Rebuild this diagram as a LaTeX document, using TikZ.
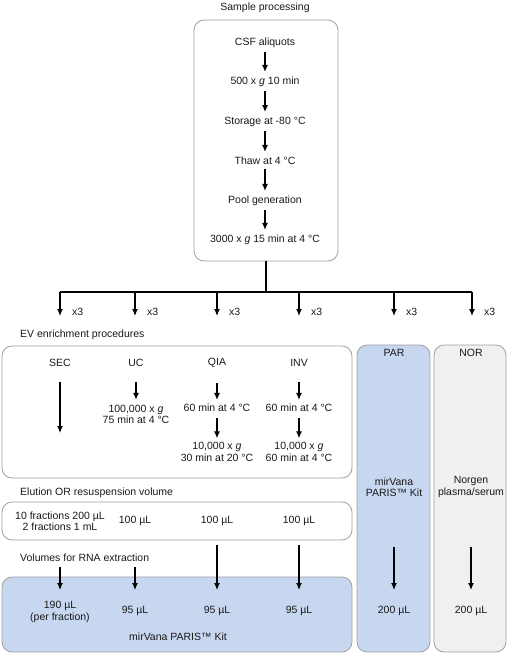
\documentclass[tikz,border=0pt]{standalone}
\usepackage{fontspec}
\setmainfont{Liberation Sans}
\usetikzlibrary{arrows.meta}
\definecolor{bluefill}{RGB}{199,215,240}
\definecolor{grayfill}{RGB}{240,240,240}
\definecolor{edgegray}{RGB}{160,160,160}
\begin{document}
\begin{tikzpicture}[x=1pt,y=-1pt,
  every node/.style={font=\fontsize{10.5}{11.5}\selectfont, inner sep=0pt, align=center, text=black!90},
  panel/.style={draw=edgegray, line width=0.8pt, rounded corners=10pt, fill=white},
  arr/.style={line width=1.2pt, -{Latex[length=7pt,width=6pt]}},
  plain/.style={line width=1.2pt}
]
\useasboundingbox (0,0) rectangle (509,657);

% ---------- Sample processing ----------
\node (sptitle) at (265,8) {Sample processing};
\node[panel, minimum width=144pt, minimum height=241pt] (spbox) at (266,140.5) {};
\node (s1) at (265,43) {CSF aliquots};
\node (s2) at (265,82) {500 x \textit{g} 10 min};
\node (s3) at (265,122) {Storage at -80 °C};
\node (s4) at (265,161) {Thaw at 4 °C};
\node (s5) at (265,201) {Pool generation};
\node (s6) at (265,240) {3000 x \textit{g} 15 min at 4 °C};
\foreach \a/\b in {s1/s2,s2/s3,s3/s4,s4/s5,s5/s6}
  \draw[arr] ([yshift=-4pt]\a.south) -- ([yshift=5pt]\b.north);

% ---------- Distribution ----------
\coordinate (hub) at (266,292);
\coordinate (h1) at (60,292);
\coordinate (h6) at (472,292);
\draw[plain] (spbox.south) -- (hub);
\draw[plain] (h1) -- (h6);
\foreach \i/\x in {1/60,2/135,3/217,4/299,5/394,6/472}{
  \coordinate (d\i) at (\x,292);
  \coordinate (e\i) at (\x,316);
  \draw[arr] (d\i) -- (e\i);
  \node[anchor=west] (x\i) at (\x+12,312) {x3};
}

% ---------- EV enrichment ----------
\node[anchor=west] (evlabel) at (20,335) {EV enrichment procedures};
\node[panel, minimum width=350pt, minimum height=132pt] (evbox) at (177,412) {};
\node (sec) at (60,363) {SEC};
\node (uc) at (136,363) {UC};
\node (qia) at (217,363) {QIA};
\node (inv) at (299,363) {INV};
\coordinate (secA) at (60,382);
\coordinate (secB) at (60,433);
\draw[arr] (secA) -- (secB);
\node (uc1) at (136,414.5) {100,000 x \textit{g}\\75 min at 4 °C};
\node (qia1) at (217,408) {60 min at 4 °C};
\node (qia2) at (217,452) {10,000 x \textit{g}\\30 min at 20 °C};
\node (inv1) at (299,408) {60 min at 4 °C};
\node (inv2) at (299,452) {10,000 x \textit{g}\\60 min at 4 °C};
\draw[arr] ([yshift=-15pt]uc.south) -- ([yshift=5pt]uc1.north);
\draw[arr] ([yshift=-15pt]qia.south) -- ([yshift=4pt]qia1.north);
\draw[arr] ([yshift=-15pt]inv.south) -- ([yshift=4pt]inv1.north);
\draw[arr] ([yshift=-6pt]qia1.south) -- ([yshift=4pt]qia2.north);
\draw[arr] ([yshift=-6pt]inv1.south) -- ([yshift=4pt]inv2.north);

% ---------- Elution ----------
\node[anchor=west] (ellabel) at (20,493) {Elution OR resuspension volume};
\node[panel, minimum width=350pt, minimum height=38pt] (elbox) at (177,521) {};
\node (el1) at (60,521) {10 fractions 200 µL\\2 fractions 1 mL};
\node (el2) at (135,521) {100 µL};
\node (el3) at (217,521) {100 µL};
\node (el4) at (299,521) {100 µL};

% ---------- RNA extraction ----------
\node[anchor=west] (rnalabel) at (20,558) {Volumes for RNA extraction};
\node[panel, fill=bluefill, minimum width=350pt, minimum height=75pt] (rnabox) at (177,614.5) {};
\node (r1) at (60,612) {190 µL\\(per fraction)};
\node (r2) at (135,611) {95 µL};
\node (r3) at (217,611) {95 µL};
\node (r4) at (299,611) {95 µL};
\node (kit) at (178,637) {mirVana PARIS™ Kit};
\coordinate (a1) at (60,567);
\coordinate (a2) at (135,567);
\coordinate (a3) at (217,545);
\coordinate (a4) at (299,545);
\foreach \i/\x in {1/60,2/135,3/217,4/299}
  \coordinate (t\i) at (\x,590);
\foreach \i in {1,2,3,4}
  \draw[arr] (a\i) -- (t\i);

% ---------- PAR ----------
\node[panel, fill=bluefill, minimum width=73pt, minimum height=307pt] (parbox) at (393.5,498.5) {};
\node (par) at (394,353) {PAR};
\node (parkit) at (394,487) {mirVana\\PARIS™ Kit};
\node (parvol) at (394,611) {200 µL};
\coordinate (parA) at (394,547);
\coordinate (parB) at (394,590);
\draw[arr] (parA) -- (parB);

% ---------- NOR ----------
\node[panel, fill=grayfill, minimum width=72pt, minimum height=307pt] (norbox) at (470,498.5) {};
\node (nor) at (471,353) {NOR};
\node (norkit) at (471,487) {Norgen\\plasma/serum};
\node (norvol) at (471,611) {200 µL};
\coordinate (norA) at (471,547);
\coordinate (norB) at (471,590);
\draw[arr] (norA) -- (norB);
\end{tikzpicture}
\end{document}
